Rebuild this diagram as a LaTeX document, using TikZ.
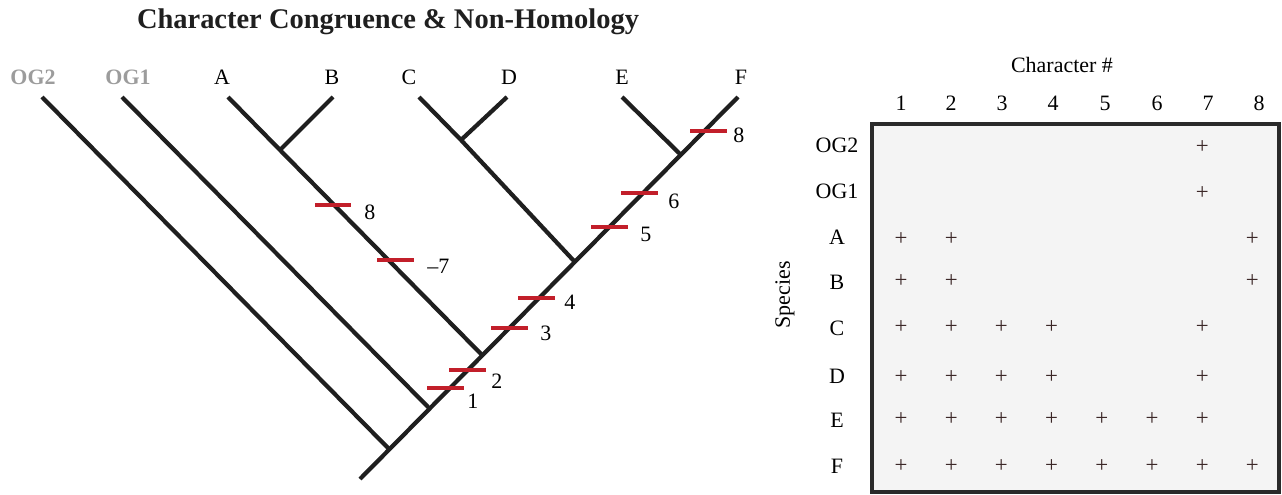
\documentclass[tikz,border=0pt]{standalone}
\usepackage{fontspec}
\setmainfont{Liberation Serif}
\definecolor{barred}{HTML}{C21F2A}
\definecolor{oggray}{HTML}{9C9C9C}
\definecolor{plusbrown}{HTML}{3A2626}
\definecolor{boxfill}{HTML}{F4F4F4}
\definecolor{boxline}{HTML}{2A2A2A}

\begin{document}
\begin{tikzpicture}[x=0.02cm, y=-0.02cm, every node/.style={font=\fontsize{12.5}{14}\selectfont, inner sep=0pt},
  branch/.style={line width=2.4pt, black!88},
  synbar/.style={fill=barred, minimum width=0.74cm, minimum height=0.09cm},
  og/.style={oggray, font=\fontsize{12.5}{14}\selectfont\bfseries},
  plus/.style={plusbrown, font=\fontsize{13}{14}\selectfont}]
	\useasboundingbox (0,0) rectangle (1282,494);
	\node[font=\fontsize{16.2}{20}\selectfont\bfseries, black!88] (title) at (388,22) {Character Congruence \& Non-Homology};
	\node[og] (og2) at (33,77) {OG2};
	\node[og] (og1) at (128,77) {OG1};
	\node (a) at (222,77) {A};
	\node (b) at (332,77) {B};
	\node (c) at (409,77) {C};
	\node (d) at (509,77) {D};
	\node (e) at (622,77) {E};
	\node (f) at (741,77) {F};
	\coordinate (tog2) at (42,97);
	\coordinate (tog1) at (122,97);
	\coordinate (ta) at (228,97);
	\coordinate (tb) at (333,97);
	\coordinate (tc) at (419,97);
	\coordinate (td) at (507,97);
	\coordinate (te) at (622,97);
	\coordinate (tf) at (738,97);
	\coordinate (root) at (360,479);
	\coordinate (jog2) at (389,449);
	\coordinate (jog1) at (429,408);
	\coordinate (jab) at (482,355);
	\coordinate (jcd) at (574,261);
	\coordinate (jef) at (680,154);
	\coordinate (ab) at (280,150);
	\coordinate (cd) at (461,140);
	\draw[branch] (root) -- (tf);
	\draw[branch] (jog2) -- (tog2);
	\draw[branch] (jog1) -- (tog1);
	\draw[branch] (jab) -- (ab) -- (ta);
	\draw[branch] (ab) -- (tb);
	\draw[branch] (jcd) -- (cd) -- (tc);
	\draw[branch] (cd) -- (td);
	\draw[branch] (jef) -- (te);
	\node[synbar] (s8ab) at (333,205) {};
	\node[anchor=west] (l8ab) at (364,212) {8};
	\node[synbar] (s7) at (395,260) {};
	\node[anchor=west] (l7) at (427,266) {--7};
	\node[synbar] (s1) at (445,388) {};
	\node[anchor=west] (l1) at (467,401) {1};
	\node[synbar] (s2) at (467,370) {};
	\node[anchor=west] (l2) at (491,381) {2};
	\node[synbar] (s3) at (509,328) {};
	\node[anchor=west] (l3) at (540,333) {3};
	\node[synbar] (s4) at (536,298) {};
	\node[anchor=west] (l4) at (564,302) {4};
	\node[synbar] (s5) at (609,227) {};
	\node[anchor=west] (l5) at (640,234) {5};
	\node[synbar] (s6) at (639,193) {};
	\node[anchor=west] (l6) at (668,201) {6};
	\node[synbar] (s8ef) at (708,131) {};
	\node[anchor=west] (l8ef) at (733,135) {8};
	\node (charhead) at (1062,65) {Character \#};
	\node[rotate=90] (species) at (785,295) {Species};
	\draw[boxline, line width=2pt, fill=boxfill] (872,124) rectangle (1279,492);
	\foreach \n/\x in {1/901,2/951,3/1002,4/1053,5/1105,6/1157,7/1208,8/1259}
		\node (col\n) at (\x,103) {\n};
	\foreach \s/\y in {OG2/145,OG1/191,A/237,B/282,C/328,D/376,E/420,F/466}
		\node (row\s) at (837,\y) {\s};
	\foreach \y/\cols in {147/{7},193/{7},239/{1,2,8},281/{1,2,8},327/{1,2,3,4,7},377/{1,2,3,4,7},419/{1,2,3,4,5,6,7},466/{1,2,3,4,5,6,7,8}}
		\foreach \k in \cols
			\node[plus] at ({901+50.2*(\k-1)},\y) {+};
\end{tikzpicture}
\end{document}
